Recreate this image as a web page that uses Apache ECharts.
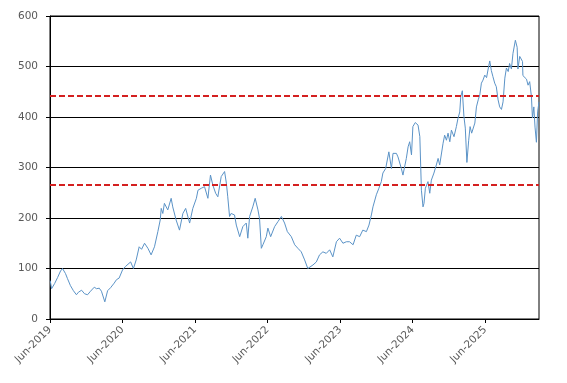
<!DOCTYPE html>
<html><head><meta charset="utf-8">
<script src="https://cdn.jsdelivr.net/npm/echarts@6/dist/echarts.min.js"></script>
<style>html,body{margin:0;padding:0;background:#fff}#c{width:567px;height:383px}</style>
</head><body><div id="c"></div>
<script>
const dates = [
'2019-06-02','2019-06-09','2019-06-24','2019-07-09','2019-07-24','2019-08-03','2019-08-18','2019-08-28','2019-09-12','2019-09-27','2019-10-12','2019-10-22','2019-11-07','2019-11-22','2019-12-07','2019-12-22',
'2020-01-10','2020-01-21','2020-02-04','2020-02-15','2020-03-03','2020-03-17','2020-04-01','2020-04-19','2020-05-01','2020-05-14','2020-05-31','2020-06-15','2020-06-25','2020-07-11','2020-07-25','2020-08-08','2020-08-23','2020-09-04','2020-09-19','2020-10-06','2020-10-22','2020-11-08','2020-11-25','2020-12-07','2020-12-12','2020-12-20','2020-12-28',
'2021-01-14','2021-01-31','2021-02-08','2021-02-25','2021-03-14','2021-03-31','2021-04-14','2021-05-04','2021-05-20','2021-06-07','2021-06-15','2021-07-02','2021-07-18','2021-08-04','2021-08-17','2021-08-29','2021-09-12','2021-09-23','2021-10-10','2021-10-27','2021-11-05','2021-11-12','2021-11-21','2021-11-29','2021-12-16','2021-12-25',
'2022-01-11','2022-01-27','2022-02-13','2022-02-21','2022-03-02','2022-03-18','2022-03-30','2022-04-13','2022-04-21','2022-04-30','2022-05-08','2022-05-25','2022-06-02','2022-06-16','2022-07-06','2022-07-23','2022-08-09','2022-08-25','2022-09-08','2022-09-28','2022-10-15','2022-10-31','2022-11-17','2022-12-04','2022-12-20','2022-12-29',
'2023-01-15','2023-02-01','2023-02-17','2023-03-06','2023-03-23','2023-04-09','2023-04-25','2023-05-13','2023-05-29','2023-06-15','2023-07-02','2023-07-18','2023-08-05','2023-08-21','2023-09-07','2023-09-23','2023-10-11','2023-10-24','2023-11-05','2023-11-13','2023-11-30','2023-12-13','2023-12-25',
'2024-01-02','2024-01-16','2024-02-01','2024-02-14','2024-02-22','2024-03-10','2024-03-18','2024-04-04','2024-04-12','2024-04-29','2024-05-08','2024-05-16','2024-05-25','2024-06-01','2024-06-13','2024-06-27','2024-07-06','2024-07-14','2024-07-22','2024-07-27','2024-08-03','2024-08-16','2024-08-25','2024-09-02','2024-09-15','2024-09-27','2024-10-06','2024-10-14','2024-10-23','2024-10-31','2024-11-08','2024-11-17','2024-11-25','2024-12-04','2024-12-12','2024-12-25',
'2025-01-06','2025-01-14','2025-01-23','2025-01-28','2025-02-05','2025-02-13','2025-02-20','2025-02-28','2025-03-09','2025-03-16','2025-03-24','2025-04-09','2025-04-17','2025-04-26','2025-05-04','2025-05-12','2025-05-20','2025-05-29','2025-06-07','2025-06-15','2025-06-23','2025-07-01','2025-07-09','2025-07-18','2025-07-26','2025-08-04','2025-08-12','2025-08-21','2025-08-29','2025-09-07','2025-09-15','2025-09-24','2025-10-01','2025-10-10','2025-10-18','2025-10-30','2025-11-08','2025-11-12','2025-11-21','2025-12-05','2025-12-07','2025-12-16','2025-12-25',
'2026-01-02','2026-01-10','2026-01-19','2026-01-24','2026-01-31','2026-02-06','2026-02-13','2026-02-19','2026-02-26'
];
const prices = [
76,60,70,82,95,100,90,80,66,56,48,53,57,50,48,55,
63,60,61,55,34,56,62,71,78,81,97,104,107,113,100,117,143,138,150,140,127,143,173,196,219,209,229,
216,239,222,196,176,209,219,190,219,239,255,259,262,239,285,265,249,242,282,292,269,242,203,209,206,186,
163,183,190,160,203,222,239,216,199,140,147,163,180,163,183,193,203,190,173,163,147,140,133,117,100,97,
107,113,127,133,130,137,123,153,160,150,153,153,147,166,163,176,173,186,206,222,246,259,272,
289,298,331,298,328,328,321,298,285,318,341,351,325,381,389,384,361,255,222,229,259,272,249,275,289,305,318,305,302,348,364,354,368,351,374,361,
381,397,410,440,452,401,378,310,354,381,368,388,420,434,444,467,473,483,478,495,511,492,480,467,460,434,420,415,430,477,497,490,506,495,526,552,538,495,520,510,482,480,475,
463,470,440,398,420,380,350,410,430
];
const referenceLevels = [442, 266];
const xStart = '2019-06-01';
const xEnd = '2026-02-26';
const yTicks = [0, 100, 200, 300, 400, 500, 600];
const monthNames = ['Jan','Feb','Mar','Apr','May','Jun','Jul','Aug','Sep','Oct','Nov','Dec'];

const DAY = 86400000;
const startTs = Date.parse(xStart);
const endTs = Date.parse(xEnd);
const seriesData = dates.map((d, i) => [Date.parse(d), prices[i]]);
const FONT = 'DejaVu Sans';

const chart = echarts.init(document.getElementById('c'), null, {renderer: 'canvas'});
chart.setOption({
  animation: false,
  backgroundColor: '#fff',
  grid: {left: 50, right: 28, top: 16, bottom: 64, show: true, borderColor: '#000', borderWidth: 1, backgroundColor: 'transparent'},
  xAxis: {
    type: 'value',
    min: startTs,
    max: endTs,
    interval: 365.25 * DAY,
    splitLine: {show: false},
    axisLine: {show: true, onZero: false, lineStyle: {color: '#000', width: 1}},
    axisTick: {show: true, length: 4, lineStyle: {color: '#000'}},
    axisLabel: {
      rotate: 45, fontSize: 10.5, fontFamily: FONT, color: '#595959', margin: 9,
      showMaxLabel: false,
      formatter: function (v) {
        if (v > endTs - 30 * DAY) return '';
        const d = new Date(v + 5 * DAY);
        return monthNames[d.getUTCMonth()] + '-' + d.getUTCFullYear();
      }
    }
  },
  yAxis: {
    type: 'value',
    min: yTicks[0],
    max: yTicks[yTicks.length - 1],
    interval: yTicks[1] - yTicks[0],
    axisLine: {show: true, lineStyle: {color: '#000', width: 1}},
    axisTick: {show: true, length: 4, lineStyle: {color: '#000'}},
    splitLine: {show: true, lineStyle: {color: '#000', width: 1}},
    axisLabel: {fontSize: 10.5, fontFamily: FONT, color: '#595959', margin: 12}
  },
  series: [{
    type: 'line',
    data: seriesData,
    showSymbol: false,
    symbol: 'none',
    lineStyle: {color: '#5b93c7', width: 1},
    z: 3,
    markLine: {
      silent: true,
      symbol: ['none', 'none'],
      label: {show: false},
      lineStyle: {color: '#d42020', type: [6, 3], width: 2},
      data: referenceLevels.map(v => ({yAxis: v}))
    }
  }]
});
</script>
</body></html>
